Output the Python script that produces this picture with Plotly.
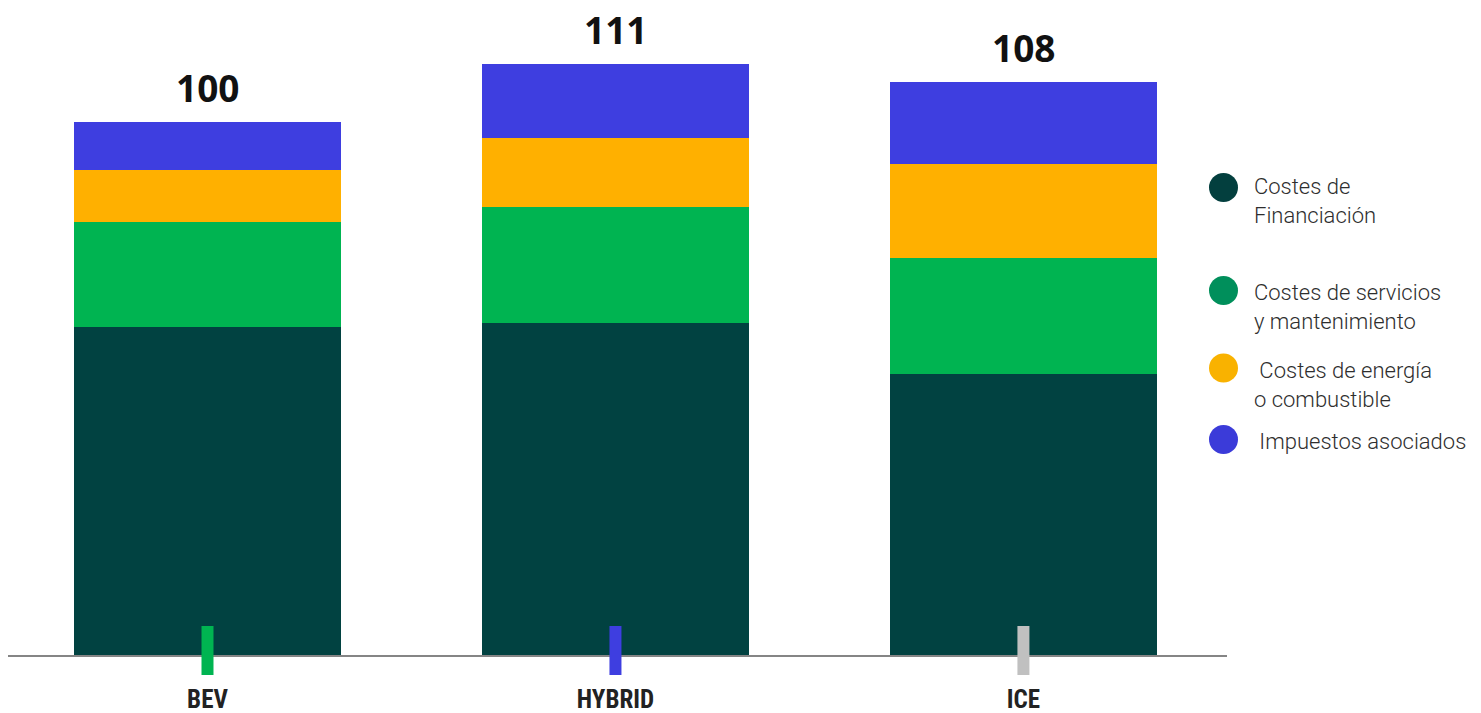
import plotly.graph_objects as go

categories = ["BEV", "HYBRID", "ICE"]
totals_text = ["100", "111", "108"]
financiacion = [61.7, 62.3, 52.8]
servicios = [19.7, 21.9, 21.7]
energia = [9.8, 13.0, 17.8]
impuestos = [8.9, 13.9, 15.3]
series_names = [
    "Costes de<br>Financiación",
    "Costes de servicios<br>y mantenimiento",
    "\u00a0Costes de energía<br>o combustible",
    "\u00a0Impuestos asociados",
]
bar_colors = ["#014241", "#00b451", "#ffb000", "#3e3ee0"]
legend_colors = ["#033f3e", "#008f5b", "#f9b200", "#3b3bd9"]
tick_colors = ["#00b451", "#3e3ee0", "#c0c0c0"]

W, H = 1481, 713
ML, MR, MT, MB = 8, 254, 20, 58
PW, PH = W - ML - MR, H - MT - MB
Y_MAX = 119.3
X0, X1 = -0.489, 2.499

def px_to_paper_y(py):
    return (H - MB - py) / PH

def px_to_paper_x(px):
    return (px - ML) / PW

fig = go.Figure()
series = [financiacion, servicios, energia, impuestos]
for name, vals, col in zip(series_names, series, bar_colors):
    fig.add_trace(go.Bar(
        x=list(range(len(categories))), y=vals, name=name,
        marker=dict(color=col, line=dict(width=0)),
        width=0.653, showlegend=False, hoverinfo="skip",
    ))

totals = [sum(v) for v in zip(*series)]
annotations = []
for i, (t, txt) in enumerate(zip(totals, totals_text)):
    annotations.append(dict(
        x=i, y=t, xref="x", yref="y", text=txt, showarrow=False,
        yanchor="bottom", xanchor="center", yshift=7,
        font=dict(family="Open Sans", size=37, color="#111111", weight="bold"),
    ))

shapes = []
# category tick marks
for i, col in enumerate(tick_colors):
    cx = (i - X0) / (X1 - X0)
    hw = 6 / PW
    shapes.append(dict(
        type="rect", xref="paper", yref="paper",
        x0=cx - hw, x1=cx + hw,
        y0=px_to_paper_y(675), y1=px_to_paper_y(626),
        fillcolor=col, line=dict(width=0), layer="above",
    ))

# custom legend
circle_py = [187.5, 290.5, 368.0, 439.5]
text_mid_py = [201.0, 306.5, 385.0, 441.0]
r = 14.5
cx_px = 1223.5
for name, col, cpy, tpy in zip(series_names, legend_colors, circle_py, text_mid_py):
    shapes.append(dict(
        type="circle", xref="paper", yref="paper",
        x0=px_to_paper_x(cx_px - r), x1=px_to_paper_x(cx_px + r),
        y0=px_to_paper_y(cpy + r), y1=px_to_paper_y(cpy - r),
        fillcolor=col, line=dict(width=0),
    ))
    annotations.append(dict(
        x=px_to_paper_x(1252), y=px_to_paper_y(tpy), xref="paper", yref="paper",
        text=name, showarrow=False, xanchor="left", yanchor="middle", align="left",
        font=dict(family="Roboto", size=22, color="#2e2e2e", weight=300),
    ))

fig.update_layout(
    width=W, height=H,
    margin=dict(l=ML, r=MR, t=MT, b=MB, pad=0, autoexpand=False),
    barmode="stack",
    paper_bgcolor="white", plot_bgcolor="white",
    shapes=shapes, annotations=annotations,
    xaxis=dict(
        range=[X0, X1], tickmode="array", automargin=False,
        tickvals=list(range(len(categories))), ticktext=categories,
        showline=True, linecolor="#858585", linewidth=1.5,
        ticks="outside", ticklen=21, tickcolor="rgba(0,0,0,0)",
        tickfont=dict(family="Liberation Sans Narrow, Roboto Condensed, Roboto", size=25,
                      color="#222222", weight="bold"),
        showgrid=False, zeroline=False, fixedrange=True,
    ),
    yaxis=dict(
        range=[0, Y_MAX], showticklabels=False, showgrid=False, automargin=False,
        zeroline=False, showline=False, ticks="", fixedrange=True,
    ),
)

fig.write_html("out.html", config={"displayModeBar": False})
